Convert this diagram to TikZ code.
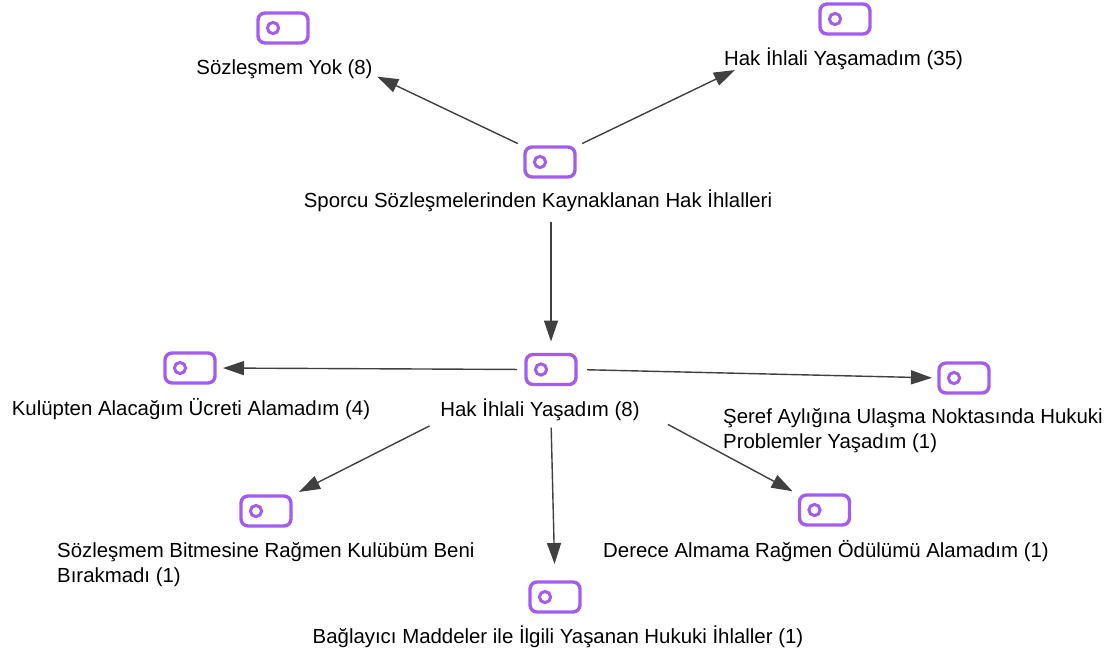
\documentclass[tikz,border=0pt]{standalone}
\usepackage{fontspec}
\setmainfont{Liberation Sans}
\usepackage{xcolor}
\usetikzlibrary{positioning, arrows.meta}
\definecolor{mor}{HTML}{A35CF0}
\definecolor{okrenk}{HTML}{404040}

\begin{document}
\begin{tikzpicture}[x=1pt, y=-1pt,
	ikon/.style={draw=mor, line width=3.4pt, rounded corners=7pt, minimum width=50pt, minimum height=30pt, inner sep=0pt, outer sep=0pt,
		path picture={\draw[mor, line width=3pt] ([xshift=-10pt]path picture bounding box.center) circle (5.6pt);}},
	yazi/.style={inner sep=0pt, font=\fontsize{20.4}{25}\selectfont},
	ok/.style={draw=okrenk, line width=1.4pt, -{Triangle[length=21pt, width=14pt]}}]
	\useasboundingbox (0,0) rectangle (1120,653);
	\node[ikon] (i0) at (550,162) {};
	\node[ikon] (i1) at (283,28) {};
	\node[ikon] (i2) at (845,19) {};
	\node[ikon] (i3) at (551,369.5) {};
	\node[ikon] (i4) at (190,368) {};
	\node[ikon] (i5) at (964,378) {};
	\node[ikon] (i6) at (266,511) {};
	\node[ikon] (i7) at (555,597) {};
	\node[ikon] (i8) at (824.5,510) {};
	
	\node[yazi, below=45pt of i0.center, anchor=base, xshift=-12pt] (y0) {Sporcu Sözleşmelerinden Kaynaklanan Hak İhlalleri};
	\node[yazi, below=46.5pt of i1.center, anchor=base, xshift=1.5pt] (y1) {Sözleşmem Yok (8)};
	\node[yazi, below=46.5pt of i2.center, anchor=base, xshift=-1.5pt] (y2) {Hak İhlali Yaşamadım (35)};
	\node[yazi, below=46.5pt of i3.center, anchor=base, xshift=-11pt] (y3) {Hak İhlali Yaşadım (8)};
	\node[yazi, below=47pt of i4.center, anchor=base, xshift=1pt] (y4) {Kulüpten Alacağım Ücreti Alamadım (4)};
	\node[yazi, align=left, below=70pt of i5.center, anchor=base west, xshift=-241pt] (y5) {Şeref Aylığına Ulaşma Noktasında Hukuki\\Problemler Yaşadım (1)};
	\node[yazi, align=left, below=71pt of i6.center, anchor=base west, xshift=-209pt] (y6) {Sözleşmem Bitmesine Rağmen Kulübüm Beni\\Bırakmadı (1)};
	\node[yazi, below=46pt of i7.center, anchor=base, xshift=3pt] (y7) {Bağlayıcı Maddeler ile İlgili Yaşanan Hukuki İhlaller (1)};
	\node[yazi, below=47pt of i8.center, anchor=base, xshift=1.5pt] (y8) {Derece Almama Rağmen Ödülümü Alamadım (1)};
	
	\draw[ok, shorten <=8pt, shorten >=5pt] (i0.north west) -- (y1.base east);
	\draw[ok, shorten <=8pt] (i0.north east) -- ([xshift=11pt]y2.south west);
	\draw[ok, shorten <=10pt, shorten >=13pt] (y0.south -| i3.north) -- (i3.north);
	\draw[ok, shorten <=9pt, shorten >=8pt] (i3.west) -- (i4.east);
	\draw[ok, shorten <=11pt, shorten >=7pt] (i3.east) -- (i5.west);
	\draw[ok, shorten <=12pt, shorten >=9pt] (y3.south west) -- (i6.north east);
	\draw[ok, shorten <=7pt, shorten >=18pt] (y3.south -| i3.south) -- (i7.north);
	\draw[ok, shorten <=32pt, shorten >=8pt] (y3.east) -- (i8.north west);
\end{tikzpicture}
\end{document}
